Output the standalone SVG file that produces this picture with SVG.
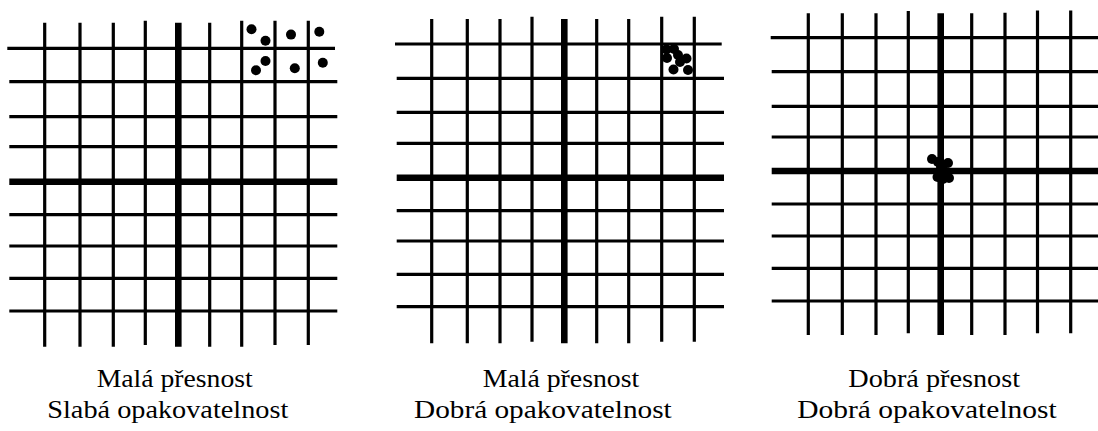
<svg xmlns="http://www.w3.org/2000/svg" width="1098" height="431" viewBox="0 0 1098 431">
<style>
.g line{stroke:#000;stroke-width:3.2}
.g line.k{stroke-width:6.6}
.d circle{fill:#000}
.t{font-family:"Liberation Serif","Times New Roman",serif;font-size:26px;fill:#000}
</style>
<rect width="1098" height="431" fill="#fff"/>
<g id="panel1">
<g class="g">
<line x1="7.3" y1="48.3" x2="335" y2="48.3"/>
<line x1="9.3" y1="81.7" x2="337.3" y2="81.7"/>
<line x1="9.3" y1="116.7" x2="337.3" y2="116.7"/>
<line x1="9.3" y1="146.7" x2="337.3" y2="146.7"/>
<line class="k" x1="9.3" y1="181.7" x2="337.3" y2="181.7"/>
<line x1="9.3" y1="214.7" x2="337.3" y2="214.7"/>
<line x1="9.3" y1="246" x2="337.3" y2="246"/>
<line x1="9.3" y1="278.3" x2="337.3" y2="278.3"/>
<line x1="9.3" y1="311" x2="337.3" y2="311"/>
<line x1="44.7" y1="22.7" x2="44.7" y2="346.7"/>
<line x1="80" y1="22.7" x2="80" y2="346.7"/>
<line x1="113.3" y1="22.7" x2="113.3" y2="346.7"/>
<line x1="145.3" y1="20.7" x2="145.3" y2="345"/>
<line class="k" x1="178.3" y1="22.7" x2="178.3" y2="346.7"/>
<line x1="209.7" y1="22.7" x2="209.7" y2="346.7"/>
<line x1="241.7" y1="20.7" x2="241.7" y2="346.7"/>
<line x1="275" y1="20.7" x2="275" y2="345"/>
<line x1="308.3" y1="20.7" x2="308.3" y2="345"/>
</g>
<g class="d">
<circle cx="251.5" cy="29.3" r="5"/>
<circle cx="265.5" cy="40.8" r="5"/>
<circle cx="291" cy="34.6" r="5"/>
<circle cx="319.3" cy="31.7" r="5"/>
<circle cx="265.5" cy="61" r="5"/>
<circle cx="256" cy="70.3" r="5"/>
<circle cx="294.8" cy="68.2" r="5"/>
<circle cx="322.8" cy="62.8" r="5"/>
</g>
<text class="t" x="96.7" y="386.7" textLength="156" lengthAdjust="spacingAndGlyphs">Malá přesnost</text>
<text class="t" x="47.3" y="418.3" textLength="241" lengthAdjust="spacingAndGlyphs">Slabá opakovatelnost</text>
</g>
<g id="panel2">
<g class="g">
<line x1="395" y1="44" x2="721.7" y2="44"/>
<line x1="396.7" y1="78.3" x2="724" y2="78.3"/>
<line x1="396.7" y1="112.3" x2="724" y2="112.3"/>
<line x1="396.7" y1="143.3" x2="724" y2="143.3"/>
<line class="k" x1="396.7" y1="177.7" x2="724" y2="177.7"/>
<line x1="396.7" y1="210.7" x2="724" y2="210.7"/>
<line x1="396.7" y1="241" x2="724" y2="241"/>
<line x1="396.7" y1="274.3" x2="724" y2="274.3"/>
<line x1="396.7" y1="306.7" x2="724" y2="306.7"/>
<line x1="431.7" y1="19" x2="431.7" y2="343.3"/>
<line x1="467.3" y1="19" x2="467.3" y2="343.3"/>
<line x1="500" y1="19" x2="500" y2="343.3"/>
<line x1="532" y1="16.7" x2="532" y2="341.7"/>
<line class="k" x1="564.3" y1="19" x2="564.3" y2="343.3"/>
<line x1="596.7" y1="19" x2="596.7" y2="343.3"/>
<line x1="628.7" y1="19" x2="628.7" y2="343.3"/>
<line x1="661.7" y1="16.7" x2="661.7" y2="341.7"/>
<line x1="694.3" y1="16.7" x2="694.3" y2="341.7"/>
</g>
<g class="d">
<circle cx="666.5" cy="49.5" r="5"/>
<circle cx="674" cy="49" r="5"/>
<circle cx="678" cy="55" r="5"/>
<circle cx="686.5" cy="58.5" r="5"/>
<circle cx="667" cy="58" r="5"/>
<circle cx="680" cy="62" r="5"/>
<circle cx="673.5" cy="69.5" r="5"/>
<circle cx="688" cy="70" r="5"/>
</g>
<text class="t" x="482.7" y="386.7" textLength="156.6" lengthAdjust="spacingAndGlyphs">Malá přesnost</text>
<text class="t" x="414" y="418.3" textLength="257.7" lengthAdjust="spacingAndGlyphs">Dobrá opakovatelnost</text>
</g>
<g id="panel3">
<g class="g">
<line x1="770.7" y1="37.7" x2="1098" y2="37.7"/>
<line x1="771.7" y1="71.7" x2="1098" y2="71.7"/>
<line x1="771.7" y1="106.3" x2="1098" y2="106.3"/>
<line x1="771.7" y1="137" x2="1098" y2="137"/>
<line class="k" x1="771.7" y1="171" x2="1098" y2="171"/>
<line x1="771.7" y1="204" x2="1098" y2="204"/>
<line x1="771.7" y1="236" x2="1098" y2="236"/>
<line x1="771.7" y1="268.3" x2="1098" y2="268.3"/>
<line x1="771.7" y1="301" x2="1098" y2="301"/>
<line x1="808.3" y1="13.3" x2="808.3" y2="335"/>
<line x1="842.3" y1="13.3" x2="842.3" y2="335"/>
<line x1="876" y1="13.3" x2="876" y2="335"/>
<line x1="908.3" y1="11" x2="908.3" y2="333.3"/>
<line class="k" x1="940.7" y1="13.3" x2="940.7" y2="335"/>
<line x1="971.7" y1="13.3" x2="971.7" y2="335"/>
<line x1="1005" y1="12.7" x2="1005" y2="335"/>
<line x1="1037.5" y1="10.5" x2="1037.5" y2="333.3"/>
<line x1="1070.7" y1="10.5" x2="1070.7" y2="333.3"/>
</g>
<g class="d">
<circle cx="932" cy="159" r="5"/>
<circle cx="938" cy="162" r="5"/>
<circle cx="948" cy="163" r="5"/>
<circle cx="941" cy="167" r="5"/>
<circle cx="944" cy="171" r="5"/>
<circle cx="937.5" cy="177" r="5"/>
<circle cx="949" cy="178" r="5"/>
<circle cx="943" cy="179" r="5"/>
</g>
<text class="t" x="848.3" y="386.7" textLength="171.7" lengthAdjust="spacingAndGlyphs">Dobrá přesnost</text>
<text class="t" x="797.3" y="418.3" textLength="259.4" lengthAdjust="spacingAndGlyphs">Dobrá opakovatelnost</text>
</g>
</svg>
